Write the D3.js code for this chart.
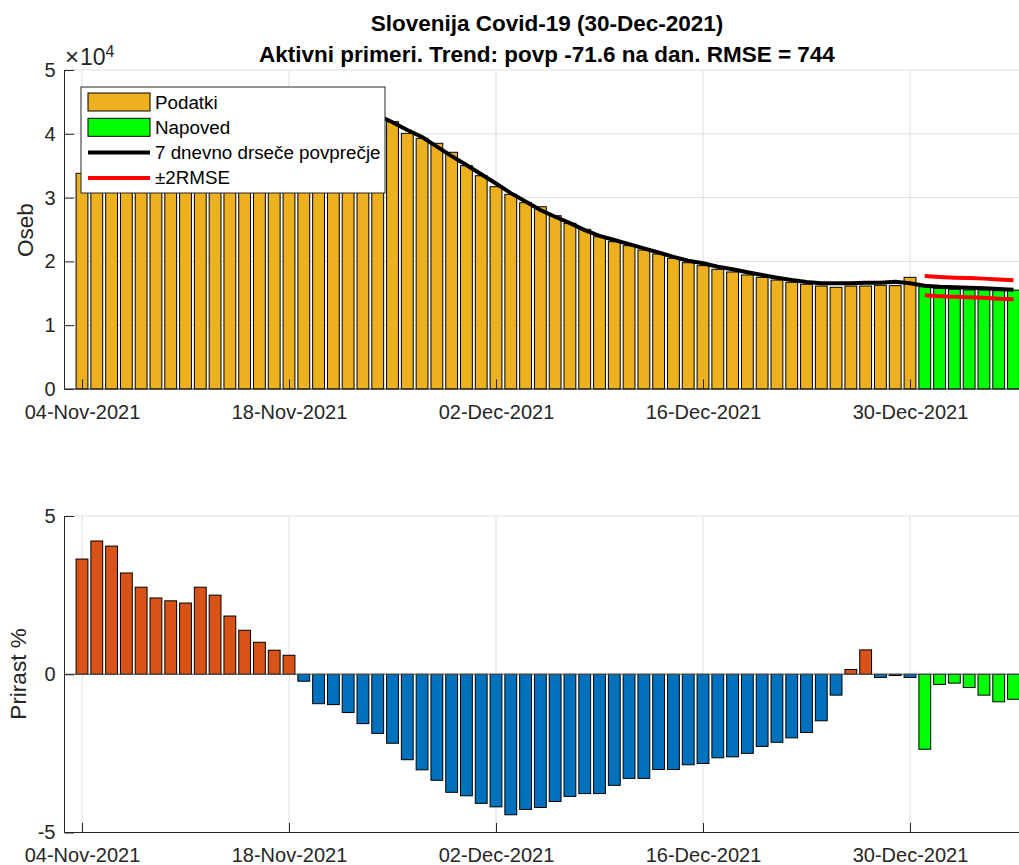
<!DOCTYPE html>
<html>
<head>
<meta charset="utf-8">
<script src="https://cdn.jsdelivr.net/npm/d3@7"></script>
<style>
	body { margin: 0; background: #fff; }
	svg { display: block; font-family: "Liberation Sans", Arial, Helvetica, sans-serif; }
	.tick text { fill: #262626; }
</style>
</head>
<body>
<svg></svg>
<script>
	// dnevi: 04-Nov-2021 .. 06-Jan-2022
	var startDay = new Date(Date.UTC(2021, 10, 4));
	var lastDataDay = new Date(Date.UTC(2021, 11, 30));
	var days = d3.utcDay.range(startDay, new Date(Date.UTC(2022, 0, 7)));
	var tickDays = [
		new Date(Date.UTC(2021, 10, 4)),
		new Date(Date.UTC(2021, 10, 18)),
		new Date(Date.UTC(2021, 11, 2)),
		new Date(Date.UTC(2021, 11, 16)),
		new Date(Date.UTC(2021, 11, 30))
	];

	// aktivni primeri (podatki), 04-Nov .. 30-Dec
	var aktivni = [33800, 35000, 36500, 37600, 38600, 39500, 40400, 41300, 42300, 43200,
		44000, 44600, 45100, 45500, 45700, 45600, 45300, 44900, 44300, 43600,
		42800, 41900, 40070, 39290, 38510, 37100, 35000, 33430, 31710, 30510,
		29200, 28570, 27160, 25970, 25030, 23870, 23090, 22460, 21790, 21160,
		20480, 19800, 19330, 18760, 18340, 17870, 17500, 17080, 16720, 16410,
		16140, 15940, 16140, 16140, 16250, 16200, 17500];
	// napoved, 31-Dec .. 06-Jan
	var napoved = [16040, 15780, 15630, 15520, 15520, 15410, 15500];
	// 7 dnevno drsece povprecje, 04-Nov .. 06-Jan
	var drsece = [33800, 35100, 36400, 37500, 38500, 39400, 40300, 41200, 42200, 43100,
		43900, 44600, 45100, 45500, 45700, 45700, 45400, 45000, 44400, 43700,
		42900, 41800, 40600, 39500, 38000, 36500, 35100, 33650, 32200, 30700,
		29400, 28050, 27000, 26000, 24900, 24000, 23350, 22700, 22050, 21400,
		20700, 20100, 19700, 19170, 18760, 18290, 17870, 17450, 17080, 16770,
		16570, 16570, 16570, 16670, 16670, 16820, 16570, 16200, 16040, 15940,
		15880, 15780, 15670, 15570];
	// +-2RMSE, 31-Dec .. 06-Jan
	var zgornja = [17700, 17550, 17450, 17400, 17300, 17150, 17050];
	var spodnja = [14700, 14550, 14450, 14400, 14300, 14150, 14050];
	// prirast %, 04-Nov .. 06-Jan
	var prirast = [3.64, 4.21, 4.05, 3.20, 2.75, 2.41, 2.32, 2.25, 2.75, 2.50,
		1.84, 1.39, 1.01, 0.76, 0.60, -0.22, -0.93, -0.96, -1.21, -1.56,
		-1.87, -2.18, -2.70, -3.02, -3.35, -3.73, -3.84, -4.08, -4.19, -4.44,
		-4.27, -4.21, -4.02, -3.86, -3.77, -3.77, -3.51, -3.29, -3.29, -3.01,
		-3.01, -2.86, -2.82, -2.64, -2.61, -2.50, -2.28, -2.15, -2.01, -1.84,
		-1.47, -0.66, 0.15, 0.77, -0.10, -0.04, -0.10, -2.37, -0.32, -0.28,
		-0.42, -0.66, -0.87, -0.79];

	var legendLabels = ["Podatki", "Napoved", "7 dnevno drseče povprečje", "±2RMSE"];
	var yTicksTop = [0, 1e4, 2e4, 3e4, 4e4, 5e4];
	var yTicksBot = [-5, 0, 5];

	var width = 1019, height = 865;
	var left = 64.5, right = 1030;
	var axisColor = "#262626", gridColor = "#dfdfdf";
	var cOrange = "#EDB120", cGreen = "#00FF00", cRed = "#D95319", cBlue = "#0072BD";

	var svg = d3.select("svg").attr("width", width).attr("height", height);

	var x = d3.scaleUtc().domain([startDay, lastDataDay]).range([82, 910]);
	var dayW = x(days[1]) - x(days[0]);
	var bw = dayW * 0.8;
	var fmt = d3.utcFormat("%d-%b-%Y");

	var yTop = d3.scaleLinear().domain([0, 50000]).range([389, 70]);
	var yBot = d3.scaleLinear().domain([-5, 5]).range([832.5, 516]);

	function grid(g, y, ticks) {
		g.selectAll(".gx").data(tickDays).enter().append("line")
			.attr("x1", d => x(d)).attr("x2", d => x(d))
			.attr("y1", y.range()[1]).attr("y2", y.range()[0])
			.attr("stroke", gridColor);
		g.selectAll(".gy").data(ticks).enter().append("line")
			.attr("x1", left).attr("x2", right)
			.attr("y1", d => y(d)).attr("y2", d => y(d))
			.attr("stroke", gridColor);
	}

	function axes(g, y, ticks, tf) {
		var ya = g.append("g")
			.attr("transform", "translate(" + left + ",0)")
			.call(d3.axisLeft(y).tickValues(ticks).tickSize(-9.6).tickSizeOuter(0).tickPadding(9).tickFormat(tf));
		ya.select(".domain").remove();
		ya.selectAll(".tick line").attr("stroke", axisColor);
		ya.selectAll("text").attr("font-size", "20px");
		g.append("line").attr("x1", left).attr("x2", left)
			.attr("y1", y.range()[1]).attr("y2", y.range()[0]).attr("stroke", axisColor);

		var base = y.range()[0];
		var xa = g.append("g")
			.attr("transform", "translate(0," + base + ")")
			.call(d3.axisBottom(x).tickValues(tickDays).tickSize(-9.6).tickSizeOuter(0).tickFormat(fmt));
		xa.select(".domain").remove();
		xa.selectAll(".tick line").attr("stroke", axisColor);
		xa.selectAll("text").attr("font-size", "20px").attr("dy", null).attr("y", 29.5);
		g.append("line").attr("x1", left).attr("x2", right)
			.attr("y1", base).attr("y2", base).attr("stroke", axisColor);
	}

	// ---------- zgornji graf ----------
	var topG = svg.append("g");
	grid(topG, yTop, yTicksTop);

	topG.selectAll(".bar").data(aktivni).enter().append("rect")
		.attr("x", (d, i) => x(days[i]) - bw / 2)
		.attr("y", d => yTop(d))
		.attr("width", bw)
		.attr("height", d => yTop(0) - yTop(d))
		.attr("fill", cOrange).attr("stroke", "#000").attr("stroke-width", 1);

	topG.selectAll(".nap").data(napoved).enter().append("rect")
		.attr("x", (d, i) => x(days[aktivni.length + i]) - bw / 2)
		.attr("y", d => yTop(d))
		.attr("width", bw)
		.attr("height", d => yTop(0) - yTop(d))
		.attr("fill", cGreen).attr("stroke", "#000").attr("stroke-width", 1);

	var line = d3.line().x(d => x(d[0])).y(d => yTop(d[1]));
	topG.append("path")
		.attr("d", line(drsece.map((v, i) => [days[i], v])))
		.attr("fill", "none").attr("stroke", "#000").attr("stroke-width", 4);

	[zgornja, spodnja].forEach(function (arr) {
		topG.append("path")
			.attr("d", line(arr.map((v, i) => [days[aktivni.length + i], v])))
			.attr("fill", "none").attr("stroke", "#FF0000").attr("stroke-width", 4);
	});

	axes(topG, yTop, yTicksTop, d => d / 1e4);

	var mult = topG.append("text").attr("x", 65).attr("y", 65).attr("font-size", "23px").attr("fill", axisColor);
	mult.append("tspan").attr("font-size", "24px").text("×");
	mult.append("tspan").attr("dx", 1).text("10");
	mult.append("tspan").attr("font-size", "16px").attr("dy", -8).text("4");

	topG.append("text")
		.attr("transform", "translate(33,230) rotate(-90)")
		.attr("text-anchor", "middle").attr("font-size", "22.5px").attr("fill", axisColor)
		.text("Oseb");

	// legenda
	var lg = topG.append("g");
	lg.append("rect").attr("x", 81).attr("y", 87).attr("width", 304).attr("height", 106)
		.attr("fill", "#fff").attr("stroke", axisColor).attr("stroke-width", 1);
	var rows = lg.selectAll(".row").data(legendLabels).enter().append("g")
		.attr("transform", (d, i) => "translate(0," + (102 + i * 25.3) + ")");
	rows.each(function (d, i) {
		var r = d3.select(this);
		if (i < 2) {
			r.append("rect").attr("x", 88).attr("y", -9).attr("width", 62).attr("height", 18)
				.attr("fill", i === 0 ? cOrange : cGreen).attr("stroke", "#000");
		} else {
			r.append("line").attr("x1", 88).attr("x2", 150).attr("y1", 0).attr("y2", 0)
				.attr("stroke", i === 2 ? "#000" : "#FF0000").attr("stroke-width", 4);
		}
		r.append("text").attr("x", 155).attr("y", 6.5).attr("font-size", "18.8px").attr("fill", "#000").text(d);
	});

	// ---------- spodnji graf ----------
	var botG = svg.append("g");
	grid(botG, yBot, yTicksBot);

	botG.selectAll(".pb").data(prirast).enter().append("rect")
		.attr("x", (d, i) => x(days[i]) - bw / 2)
		.attr("y", d => yBot(Math.max(0, d)))
		.attr("width", bw)
		.attr("height", d => Math.abs(yBot(d) - yBot(0)))
		.attr("fill", (d, i) => i >= aktivni.length ? cGreen : (d >= 0 ? cRed : cBlue))
		.attr("stroke", "#000").attr("stroke-width", 1);

	botG.append("line").attr("x1", left).attr("x2", right)
		.attr("y1", yBot(0)).attr("y2", yBot(0)).attr("stroke", "#555");

	axes(botG, yBot, yTicksBot, d => d);

	botG.append("text")
		.attr("transform", "translate(25.5,674) rotate(-90)")
		.attr("text-anchor", "middle").attr("font-size", "22.5px").attr("fill", axisColor)
		.text("Prirast %");

	// naslov
	var title = svg.append("text").attr("text-anchor", "middle").attr("font-weight", "bold")
		.attr("font-size", "22.5px").attr("fill", "#000");
	title.append("tspan").attr("x", 547).attr("y", 30.7).text("Slovenija Covid-19 (30-Dec-2021)");
	title.append("tspan").attr("x", 547).attr("y", 61.7).text("Aktivni primeri. Trend: povp -71.6 na dan. RMSE = 744");
</script>
</body>
</html>
